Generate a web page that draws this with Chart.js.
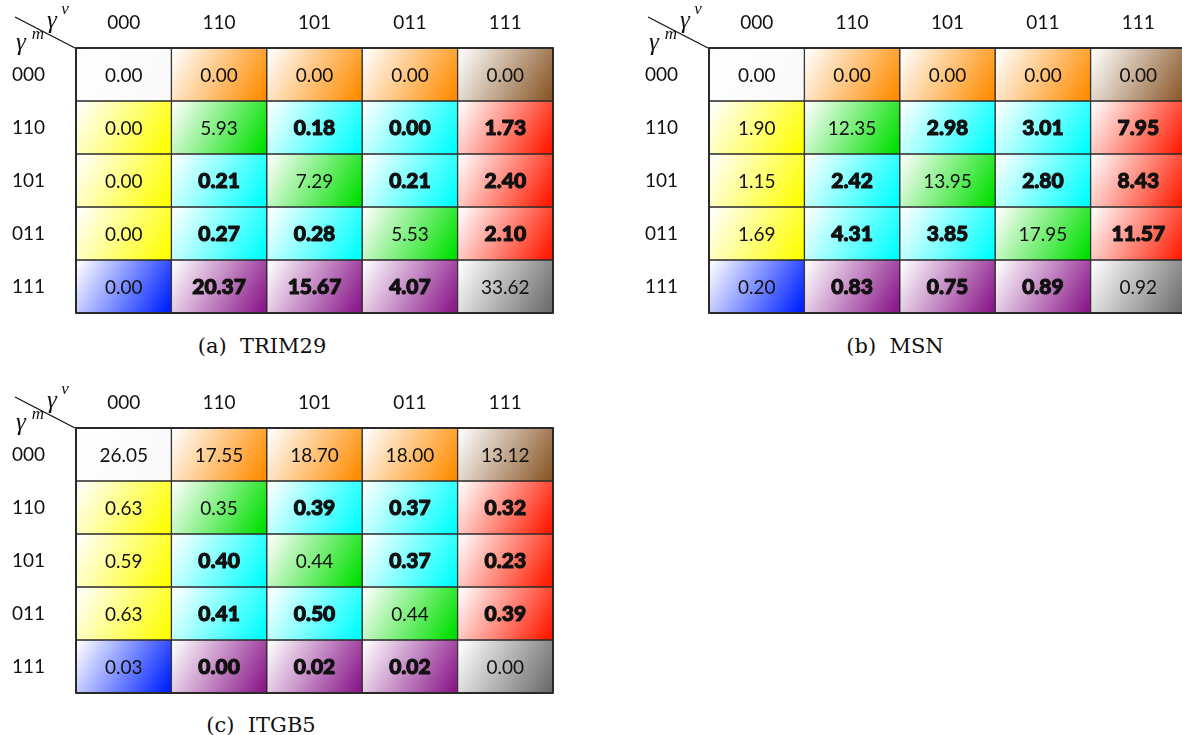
<!DOCTYPE html>
<html>
<head>
<meta charset="utf-8">
<script src="https://cdn.jsdelivr.net/npm/chart.js@4/dist/chart.umd.min.js"></script>
<style>
  html, body { margin: 0; padding: 0; background: #fff; width: 1182px; height: 735px; overflow: hidden; }
  .panel { position: absolute; width: 560px; height: 320px; }
  .panel canvas { display: block; }
  .cap { position: absolute; font-family: "DejaVu Serif", serif; font-size: 21px; color: #111;
         white-space: nowrap; transform: translate(-50%, -50%); }
</style>
</head>
<body>
<div class="panel" style="left:0;top:0"><canvas id="chartA" width="560" height="320"></canvas></div>
<div class="panel" style="left:633px;top:0"><canvas id="chartB" width="560" height="320"></canvas></div>
<div class="panel" style="left:0;top:380px"><canvas id="chartC" width="560" height="320"></canvas></div>
<div class="cap" style="left:262px;top:346px">(a)&nbsp; TRIM29</div>
<div class="cap" style="left:895px;top:346px">(b)&nbsp; MSN</div>
<div class="cap" style="left:261px;top:725px">(c)&nbsp; ITGB5</div>

<script>
const colLabels = ['000', '110', '101', '011', '111'];
const rowLabels = ['000', '110', '101', '011', '111'];

const trim29 = [
  [0.00, 0.00, 0.00, 0.00, 0.00],
  [0.00, 5.93, 0.18, 0.00, 1.73],
  [0.00, 0.21, 7.29, 0.21, 2.40],
  [0.00, 0.27, 0.28, 5.53, 2.10],
  [0.00, 20.37, 15.67, 4.07, 33.62]
];
const msn = [
  [0.00, 0.00, 0.00, 0.00, 0.00],
  [1.90, 12.35, 2.98, 3.01, 7.95],
  [1.15, 2.42, 13.95, 2.80, 8.43],
  [1.69, 4.31, 3.85, 17.95, 11.57],
  [0.20, 0.83, 0.75, 0.89, 0.92]
];
const itgb5 = [
  [26.05, 17.55, 18.70, 18.00, 13.12],
  [0.63, 0.35, 0.39, 0.37, 0.32],
  [0.59, 0.40, 0.44, 0.37, 0.23],
  [0.63, 0.41, 0.50, 0.44, 0.39],
  [0.03, 0.00, 0.02, 0.02, 0.00]
];

const kindColor = {
  white: '#f9f9f9', orange: '#ff8c00', brown: '#8b5a2b', yellow: '#ffff00',
  green: '#00e000', cyan: '#00ffff', red: '#ff1a00', blue: '#0022ff',
  purple: '#8b1a8b', gray: '#6e6e6e'
};
const boldKinds = ['cyan', 'red', 'purple'];
const numFont = 'Lato, "Open Sans", sans-serif';

// which colour family a cell belongs to, from its row / column position
function cellKind(r, c) {
  const last = rowLabels.length - 1;
  if (r === 0 && c === 0) return 'white';
  if (r === 0) return c === last ? 'brown' : 'orange';
  if (c === 0) return r === last ? 'blue' : 'yellow';
  if (r === last) return c === last ? 'gray' : 'purple';
  if (c === last) return 'red';
  return r === c ? 'green' : 'cyan';
}

function cellFill(ctx) {
  const chart = ctx.chart;
  if (ctx.dataIndex === undefined) return '#ccc';
  const base = kindColor[cellKind(ctx.datasetIndex, ctx.dataIndex)];
  if (!chart.chartArea) return base;
  const xs = chart.scales.x, ys = chart.scales.y;
  const half = xs.width / colLabels.length / 2;
  const cx = xs.getPixelForValue(ctx.dataIndex);
  const y0 = ys.getPixelForValue(ctx.datasetIndex);
  const y1 = ys.getPixelForValue(ctx.datasetIndex + 1);
  const g = chart.ctx.createLinearGradient(cx - half, y0, cx + half, y1);
  g.addColorStop(0.02, '#ffffff');
  g.addColorStop(0.95, base);
  return g;
}

const cellText = {
  id: 'cellText',
  afterDatasetsDraw(chart, args, opts) {
    const c = chart.ctx;
    const ys = chart.scales.y;
    c.save();
    c.textAlign = 'center';
    c.textBaseline = 'middle';
    c.fillStyle = '#111';
    c.strokeStyle = '#111';
    c.lineJoin = 'round';
    chart.data.datasets.forEach((ds, r) => {
      const meta = chart.getDatasetMeta(r);
      meta.data.forEach((bar, i) => {
        const bold = boldKinds.includes(cellKind(r, i));
        const txt = opts.values[r][i].toFixed(2);
        const y = (ys.getPixelForValue(r) + ys.getPixelForValue(r + 1)) / 2 + 1;
        c.font = (bold ? '900 21px ' : '400 19px ') + numFont;
        c.fillText(txt, bar.x, y);
        if (bold) {
          // heavier look, like the reference's extra-bold face
          c.lineWidth = 1.1;
          c.strokeText(txt, bar.x, y);
        }
      });
    });
    // outer frame
    const a = chart.chartArea;
    c.strokeStyle = '#2a2a2a';
    c.lineWidth = 2;
    c.strokeRect(a.left, a.top, a.right - a.left, a.bottom - a.top);
    c.restore();
  }
};

const cornerLabel = {
  id: 'cornerLabel',
  afterDraw(chart) {
    const c = chart.ctx;
    const L = chart.chartArea.left, T = chart.chartArea.top;
    c.save();
    c.strokeStyle = '#111';
    c.lineWidth = 1.3;
    c.beginPath();
    c.moveTo(L - 61, T - 31);
    c.lineTo(L - 1, T);
    c.stroke();
    c.fillStyle = '#111';
    c.textAlign = 'center';
    c.textBaseline = 'middle';
    c.font = 'italic 25px "Liberation Serif", serif';
    c.fillText('\u03B3', L - 24, T - 27);
    c.fillText('\u03B3', L - 55, T - 5);
    c.font = 'italic 17px "Liberation Serif", serif';
    c.fillText('v', L - 11, T - 38);
    c.fillText('m', L - 38, T - 13);
    c.restore();
  }
};

function makeTable(id, values) {
  const datasets = rowLabels.map((row, r) => ({
    label: row,
    data: colLabels.map(() => [r, r + 1]),
    backgroundColor: cellFill,
    borderColor: '#2a2a2a',
    borderWidth: 1,
    borderSkipped: false,
    categoryPercentage: 1,
    barPercentage: 1,
    clip: false
  }));
  return new Chart(document.getElementById(id), {
    type: 'bar',
    data: { labels: colLabels, datasets },
    options: {
      responsive: false,
      maintainAspectRatio: false,
      animation: false,
      layout: { padding: { left: 0, top: 0, right: 7, bottom: 7 } },
      scales: {
        x: {
          position: 'top',
          stacked: false,
          grid: { display: false, drawTicks: false },
          border: { display: false },
          ticks: { color: '#111', padding: 14, font: { family: numFont, size: 19 } },
          afterFit(scale) { scale.height = 48; }
        },
        y: {
          type: 'linear',
          min: 0,
          max: rowLabels.length,
          reverse: true,
          grid: { display: false, drawTicks: false },
          border: { display: false },
          afterBuildTicks(scale) {
            scale.ticks = rowLabels.map((_, i) => ({ value: i + 0.5 }));
          },
          ticks: {
            color: '#111',
            padding: 31,
            font: { family: numFont, size: 19 },
            callback: (v, i) => rowLabels[i]
          },
          afterFit(scale) {
            scale.width = 76;
            scale.paddingTop = 0;
            scale.paddingBottom = 0;
          }
        }
      },
      datasets: { bar: { grouped: false } },
      plugins: {
        legend: { display: false },
        tooltip: { enabled: false },
        cellText: { values }
      }
    },
    plugins: [cellText, cornerLabel]
  });
}

makeTable('chartA', trim29);
makeTable('chartB', msn);
makeTable('chartC', itgb5);
</script>
</body>
</html>
